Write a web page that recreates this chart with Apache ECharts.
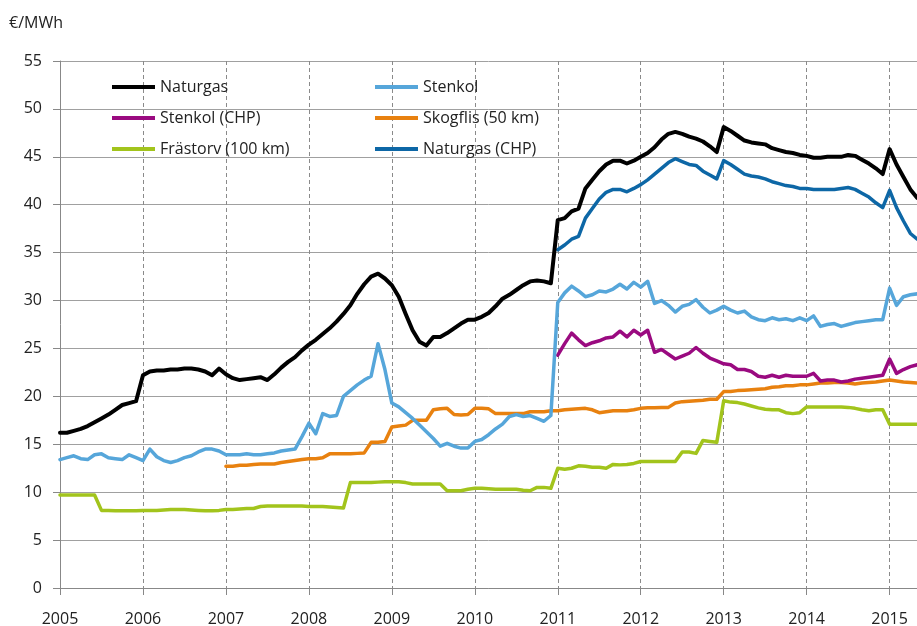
<!DOCTYPE html>
<html>
<head>
<meta charset="utf-8">
<script src="https://cdn.jsdelivr.net/npm/echarts@6/dist/echarts.min.js"></script>
<style>
html,body{margin:0;padding:0;background:#fff;}
#chart{width:917px;height:626px;}
</style>
</head>
<body>
<div id="chart"></div>
<script>
// Monthly prices, €/MWh. Each series starts at the given month (year, month index 0-11).
const yearTicks = [2005, 2006, 2007, 2008, 2009, 2010, 2011, 2012, 2013, 2014, 2015];
const yTicks = [0, 5, 10, 15, 20, 25, 30, 35, 40, 45, 50, 55];

const naturgasStart = [2005, 0];
const naturgas = [
  16.2, 16.2, 16.4, 16.6, 16.9, 17.3, 17.7, 18.1, 18.6, 19.1, 19.3, 19.5,
  22.2, 22.6, 22.7, 22.7, 22.8, 22.8, 22.9, 22.9, 22.8, 22.6, 22.2, 22.9,
  22.3, 21.9, 21.7, 21.8, 21.9, 22.0, 21.7, 22.3, 23.0, 23.6, 24.1, 24.8,
  25.4, 25.9, 26.5, 27.1, 27.8, 28.6, 29.5, 30.7, 31.7, 32.5, 32.8, 32.3,
  31.6, 30.4, 28.6, 26.9, 25.7, 25.3, 26.2, 26.2, 26.6, 27.1, 27.6, 28.0,
  28.0, 28.3, 28.7, 29.4, 30.2, 30.6, 31.1, 31.6, 32.0, 32.1, 32.0, 31.8,
  38.4, 38.6, 39.3, 39.6, 41.7, 42.6, 43.5, 44.2, 44.6, 44.6, 44.3, 44.6,
  45.0, 45.4, 46.0, 46.8, 47.4, 47.6, 47.4, 47.1, 46.9, 46.6, 46.1, 45.5,
  48.1, 47.7, 47.2, 46.7, 46.5, 46.4, 46.3, 45.9, 45.7, 45.5, 45.4, 45.2,
  45.1, 44.9, 44.9, 45.0, 45.0, 45.0, 45.2, 45.1, 44.7, 44.3, 43.8, 43.2,
  45.8, 44.2, 42.9, 41.6, 40.7
];

const stenkolStart = [2005, 0];
const stenkol = [
  13.4, 13.6, 13.8, 13.5, 13.4, 13.9, 14.0, 13.6, 13.5, 13.4, 13.9, 13.6,
  13.3, 14.5, 13.7, 13.3, 13.1, 13.3, 13.6, 13.8, 14.2, 14.5, 14.5, 14.3,
  13.9, 13.9, 13.9, 14.0, 13.9, 13.9, 14.0, 14.1, 14.3, 14.4, 14.5, 15.8,
  17.2, 16.1, 18.2, 17.9, 18.0, 20.0, 20.6, 21.2, 21.7, 22.1, 25.5, 22.8,
  19.3, 18.9, 18.3, 17.7, 17.0, 16.3, 15.6, 14.8, 15.1, 14.8, 14.6, 14.6,
  15.3, 15.5, 16.0, 16.6, 17.1, 17.9, 18.1, 17.9, 18.0, 17.7, 17.4, 18.0,
  29.8, 30.8, 31.5, 31.0, 30.4, 30.6, 31.0, 30.9, 31.2, 31.7, 31.2, 31.9,
  31.4, 32.0, 29.7, 30.0, 29.5, 28.8, 29.4, 29.6, 30.1, 29.3, 28.7, 29.0,
  29.4, 29.0, 28.7, 28.9, 28.3, 28.0, 27.9, 28.2, 28.0, 28.1, 27.9, 28.2,
  27.9, 28.4, 27.3, 27.5, 27.6, 27.3, 27.5, 27.7, 27.8, 27.9, 28.0, 28.0,
  31.3, 29.5, 30.4, 30.6, 30.7
];

const stenkolChpStart = [2011, 0];
const stenkolChp = [
  24.3, 25.5, 26.6, 25.9, 25.3, 25.6, 25.8, 26.1, 26.2, 26.8, 26.2, 26.9,
  26.4, 26.9, 24.6, 24.9, 24.4, 23.9, 24.2, 24.5, 25.1, 24.5, 24.0, 23.7,
  23.4, 23.3, 22.8, 22.8, 22.6, 22.1, 22.0, 22.2, 22.0, 22.2, 22.1, 22.1,
  22.1, 22.4, 21.6, 21.7, 21.7, 21.5, 21.6, 21.8, 21.9, 22.0, 22.1, 22.2,
  23.9, 22.4, 22.8, 23.1, 23.3
];

const skogflisStart = [2007, 0];
const skogflis = [
  12.7, 12.7, 12.8, 12.8, 12.9, 12.95, 12.95, 12.95, 13.1, 13.2, 13.3, 13.4,
  13.5, 13.5, 13.6, 14.0, 14.0, 14.0, 14.0, 14.05, 14.1, 15.2, 15.2, 15.3,
  16.8, 16.9, 17.0, 17.5, 17.5, 17.5, 18.6, 18.7, 18.75, 18.1, 18.05, 18.1,
  18.75, 18.75, 18.7, 18.2, 18.2, 18.2, 18.2, 18.2, 18.4, 18.4, 18.4, 18.5,
  18.5, 18.6, 18.65, 18.7, 18.75, 18.6, 18.3, 18.4, 18.5, 18.5, 18.5, 18.6,
  18.75, 18.8, 18.8, 18.85, 18.85, 19.3, 19.45, 19.5, 19.55, 19.6, 19.7, 19.7,
  20.5, 20.5, 20.6, 20.65, 20.7, 20.75, 20.8, 20.95, 21.0, 21.1, 21.1, 21.2,
  21.2, 21.3, 21.4, 21.4, 21.45, 21.45, 21.4, 21.3, 21.4, 21.45, 21.5, 21.6,
  21.7, 21.6, 21.5, 21.45, 21.4
];

const frastorvStart = [2005, 0];
const frastorv = [
  9.7, 9.7, 9.7, 9.7, 9.7, 9.7, 8.1, 8.1, 8.05, 8.05, 8.05, 8.05,
  8.1, 8.1, 8.1, 8.15, 8.2, 8.2, 8.2, 8.15, 8.1, 8.05, 8.05, 8.1,
  8.2, 8.2, 8.25, 8.3, 8.3, 8.5, 8.55, 8.55, 8.55, 8.55, 8.55, 8.55,
  8.5, 8.5, 8.5, 8.45, 8.4, 8.35, 11.0, 11.0, 11.0, 11.0, 11.05, 11.1,
  11.1, 11.1, 11.0, 10.85, 10.85, 10.85, 10.85, 10.85, 10.15, 10.15, 10.15, 10.3,
  10.4, 10.4, 10.35, 10.3, 10.3, 10.3, 10.3, 10.2, 10.15, 10.5, 10.5, 10.4,
  12.5, 12.4, 12.5, 12.75, 12.7, 12.6, 12.6, 12.5, 12.9, 12.85, 12.9, 13.0,
  13.2, 13.2, 13.2, 13.2, 13.2, 13.2, 14.2, 14.2, 14.05, 15.4, 15.3, 15.2,
  19.55, 19.4, 19.35, 19.2, 19.0, 18.8, 18.65, 18.6, 18.6, 18.3, 18.2, 18.3,
  18.9, 18.9, 18.9, 18.9, 18.9, 18.9, 18.85, 18.75, 18.6, 18.5, 18.6, 18.6,
  17.1, 17.1, 17.1, 17.1, 17.1
];

const naturgasChpStart = [2011, 0];
const naturgasChp = [
  35.3, 35.8, 36.4, 36.7, 38.6, 39.6, 40.6, 41.3, 41.6, 41.6, 41.35, 41.7,
  42.1, 42.6, 43.2, 43.8, 44.4, 44.8, 44.5, 44.2, 44.1, 43.5, 43.1, 42.7,
  44.6, 44.2, 43.7, 43.2, 43.0, 42.9, 42.7, 42.4, 42.2, 42.0, 41.9, 41.7,
  41.7, 41.6, 41.6, 41.6, 41.6, 41.7, 41.8, 41.6, 41.2, 40.8, 40.2, 39.7,
  41.5, 39.7, 38.3, 37.0, 36.4
];

function monthly(start, values) {
  return values.map((v, i) => [start[0] + (start[1] + i) / 12, v]);
}

const FONT = '"Open Sans", "Noto Sans", sans-serif';
const chart = echarts.init(document.getElementById('chart'), null, {renderer: 'canvas'});

function line(name, start, values, color, width) {
  return {
    name: name, type: 'line', data: monthly(start, values),
    showSymbol: false, symbol: 'none', smooth: false, clip: true,
    lineStyle: {color: color, width: width, join: 'round', cap: 'round'},
    itemStyle: {color: color},
    emphasis: {disabled: true}, animation: false
  };
}

const legendCommon = {
  orient: 'vertical', top: 79, padding: 0, itemWidth: 43, itemHeight: 4, itemGap: 15,
  icon: 'rect', selectedMode: false,
  textStyle: {fontFamily: FONT, fontSize: 16, color: '#222', padding: [0, 0, 0, 0]}
};

chart.setOption({
  backgroundColor: '#fff',
  animation: false,
  title: {
    text: '€/MWh', left: 9, top: 15, padding: 0,
    textStyle: {fontFamily: FONT, fontSize: 16, fontWeight: 'normal', color: '#222'}
  },
  legend: [
    Object.assign({}, legendCommon, {left: 112, data: ['Naturgas', 'Stenkol (CHP)', 'Frästorv (100 km)']}),
    Object.assign({}, legendCommon, {left: 375, data: ['Stenkol', 'Skogflis (50 km)', 'Naturgas (CHP)']})
  ],
  grid: {left: 60, right: 0, top: 61, bottom: 38, containLabel: false, outerBoundsMode: 'none'},
  xAxis: {
    type: 'value', min: yearTicks[0], max: 2015.33, interval: 1,
    axisLine: {show: true, lineStyle: {color: '#888', width: 1}},
    axisTick: {show: true, length: 7, lineStyle: {color: '#888'}},
    axisLabel: {
      showMaxLabel: false, margin: 23,
      fontFamily: FONT, fontSize: 16, color: '#222',
      formatter: v => yearTicks.includes(Math.round(v)) ? String(Math.round(v)) : ''
    },
    splitLine: {show: true, lineStyle: {color: '#8a8a8a', type: [4, 3], width: 1}}
  },
  yAxis: {
    type: 'value', min: yTicks[0], max: yTicks[yTicks.length - 1], interval: 5,
    axisLine: {show: true, lineStyle: {color: '#888', width: 1}},
    axisTick: {show: true, inside: false, length: 7, lineStyle: {color: '#888'}},
    axisLabel: {margin: 18, fontFamily: FONT, fontSize: 16, color: '#222'},
    splitLine: {show: true, lineStyle: {color: '#a0a0a0', width: 1}}
  },
  series: [
    line('Frästorv (100 km)', frastorvStart, frastorv, '#a2c41c', 3.5),
    line('Skogflis (50 km)', skogflisStart, skogflis, '#e8810f', 3.5),
    line('Stenkol (CHP)', stenkolChpStart, stenkolChp, '#9a0a80', 3.5),
    line('Stenkol', stenkolStart, stenkol, '#56a6da', 3.5),
    line('Naturgas (CHP)', naturgasChpStart, naturgasChp, '#0d67a6', 3.5),
    line('Naturgas', naturgasStart, naturgas, '#000000', 4)
  ]
});
</script>
</body>
</html>
